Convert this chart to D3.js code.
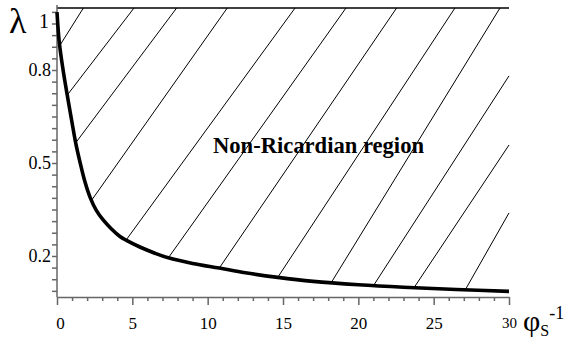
<!DOCTYPE html>
<html>
  <head>
    <meta charset="utf-8">
    <title></title>
  </head>
  <style>
  body{
      font-family: "Liberation Serif", "Times New Roman", serif;
      background-color: #fff;
      margin:0;
      padding:0
    }
    svg { display: block }
    .axis path, .axis line {
        stroke: #666;
        stroke-width: 1.5
    }
  </style>
  <script src="https://d3js.org/d3.v7.min.js"></script>
  <body>
    <script>
    // curve: lambda as a function of phi_S^-1
    var phiInv = [0, 0.15, 0.42, 0.68, 1.0, 1.24, 1.53, 1.85, 2.19, 2.6, 3.05, 3.6, 4.18, 4.58, 5.5, 6.5, 7.39, 9, 10.77, 12.5, 14.65, 17, 20, 23, 26.5, 30]
    var lambda = [0.987, 0.89, 0.795, 0.719, 0.63, 0.565, 0.502, 0.44, 0.39, 0.348, 0.317, 0.288, 0.263, 0.251, 0.229, 0.209, 0.194, 0.176, 0.161, 0.146, 0.131, 0.118, 0.107, 0.099, 0.092, 0.086]

    // hatch lines of the region: lower end (on the curve) and upper end
    var hatchX0 = [0.2, 0.68, 1.24, 2.3, 4.58, 7.39, 10.77, 14.65, 18.2, 21.0, 23.7, 27.1]
    var hatchY0 = [0.88, 0.719, 0.565, 0.38, 0.251, 0.194, 0.161, 0.131, 0.114, 0.104, 0.098, 0.091]
    var hatchX1 = [1.75, 5.11, 7.94, 11.3, 15.8, 19.18, 22.54, 26.41, 29.4, 30, 30, 30]
    var hatchY1 = [1, 1, 1, 1, 1, 1, 1, 1, 1, 0.781, 0.558, 0.339]

    // ticks
    var xMajor = [0, 5, 10, 15, 20, 25, 30]
    var xMinor = [0,1,2,3,4,5,6,7,8,9,10,11,12,13,14,15,16,17,18,19,20,21,22,23,24,25,26,27,28,29,30]
    var yLabels = ["0.2", "0.5", "0.8", "1"]
    var yLabelAt = [0.2, 0.5, 0.8, 0.9875]
    var yTickStart = 0.0875, yTickStep = 0.0375, yTickCount = 25

    var serif = "Liberation Serif, Times New Roman, serif"
    var width = 574, height = 345

    var svg = d3.select("body")
                .append("svg")
                .attr("width", width)
                .attr("height", height)
                .attr("font-family", serif)
                .style("background", "#fff")

    var xScale = d3.scaleLinear().domain([0, 30]).range([57, 509])
    var yScale = d3.scaleLinear().domain([0.0677, 1]).range([297, 8])

    // top border
    svg.append("line")
       .attr("x1", xScale(0)).attr("x2", xScale(30))
       .attr("y1", yScale(1)).attr("y2", yScale(1))
       .attr("stroke", "#000")
       .attr("stroke-width", 1.3)

    // hatching
    svg.append("g").selectAll("line")
       .data(hatchX0)
       .enter()
       .append("line")
       .attr("x1", function(d){ return xScale(d) })
       .attr("y1", function(d, i){ return yScale(hatchY0[i]) })
       .attr("x2", function(d, i){ return xScale(hatchX1[i]) })
       .attr("y2", function(d, i){ return yScale(hatchY1[i]) })
       .attr("stroke", "#000")
       .attr("stroke-width", 1)

    // x axis
    var yTicks = d3.range(yTickCount).map(function(k){ return yTickStart + k*yTickStep })

    var xAxis = svg.append("g")
       .attr("class", "axis")
       .attr("transform", "translate(0," + yScale.range()[0] + ")")
       .call(d3.axisBottom(xScale)
               .tickValues(xMinor)
               .tickSize(4)
               .tickSizeOuter(0)
               .tickFormat(function(d){ return xMajor.indexOf(d) >= 0 ? d : "" }))

    xAxis.attr("font-family", serif)

    xAxis.selectAll(".tick")
       .filter(function(d){ return xMajor.indexOf(d) >= 0 })
       .select("line").attr("y2", 8)

    xAxis.selectAll("text")
       .attr("y", 20)
       .attr("fill", "#000")
       .attr("font-family", serif)
       .attr("font-size", function(d){ return d == 30 ? "15px" : "17px" })
       .attr("dx", function(d){ return d == 0 ? 3 : 0 })

    // y axis
    var yAxis = svg.append("g")
       .attr("class", "axis")
       .attr("transform", "translate(" + xScale(0) + ",0)")
       .call(d3.axisLeft(yScale)
               .tickValues(yTicks)
               .tickSize(5)
               .tickSizeOuter(0)
               .tickFormat(function(d){
                  for (var i = 0; i < yLabelAt.length; i++) {
                    if (Math.abs(d - yLabelAt[i]) < 1e-6) return yLabels[i]
                  }
                  return ""
               }))

    yAxis.attr("font-family", serif)
    yAxis.select(".domain").attr("d", "M0," + yScale.range()[0] + "V5")

    yAxis.selectAll("text")
       .attr("font-family", serif)
       .attr("fill", "#000")
       .attr("font-size", "18px")
       .attr("x", -6)
       .filter(function(d){ return Math.abs(d - 0.9875) < 1e-6 })
       .attr("font-size", "20px")
       .attr("x", -8)
       .attr("dy", "0.8em")

    // curve
    var linePath = d3.line()
                     .curve(d3.curveCatmullRom.alpha(0.5))
                     .x(function(d){ return xScale(d) })
                     .y(function(d, i){ return yScale(lambda[i]) })

    svg.append("path")
       .attr("d", linePath(phiInv))
       .attr("fill", "none")
       .attr("stroke", "#000")
       .attr("stroke-width", 3.6)

    // region label
    svg.append("text")
       .text("Non-Ricardian region")
       .attr("x", 213)
       .attr("y", 153)
       .attr("font-size", "24px")
       .attr("font-weight", "bold")
       .attr("textLength", 211)
       .attr("lengthAdjust", "spacingAndGlyphs")
       .attr("fill", "#000")

    // axis titles
    svg.append("text")
       .text("λ")
       .attr("x", 9)
       .attr("y", 33)
       .attr("font-size", "36px")
       .attr("fill", "#000")

    var xt = svg.append("text")
       .attr("x", 523)
       .attr("y", 331)
       .attr("fill", "#000")
    xt.append("tspan").text("φ").attr("font-size", "30px")
    xt.append("tspan").text("S").attr("font-size", "16px").attr("dy", 5)
    xt.append("tspan").text("-1").attr("font-size", "18px").attr("dy", -17)
    </script>
  </body>
</html>
